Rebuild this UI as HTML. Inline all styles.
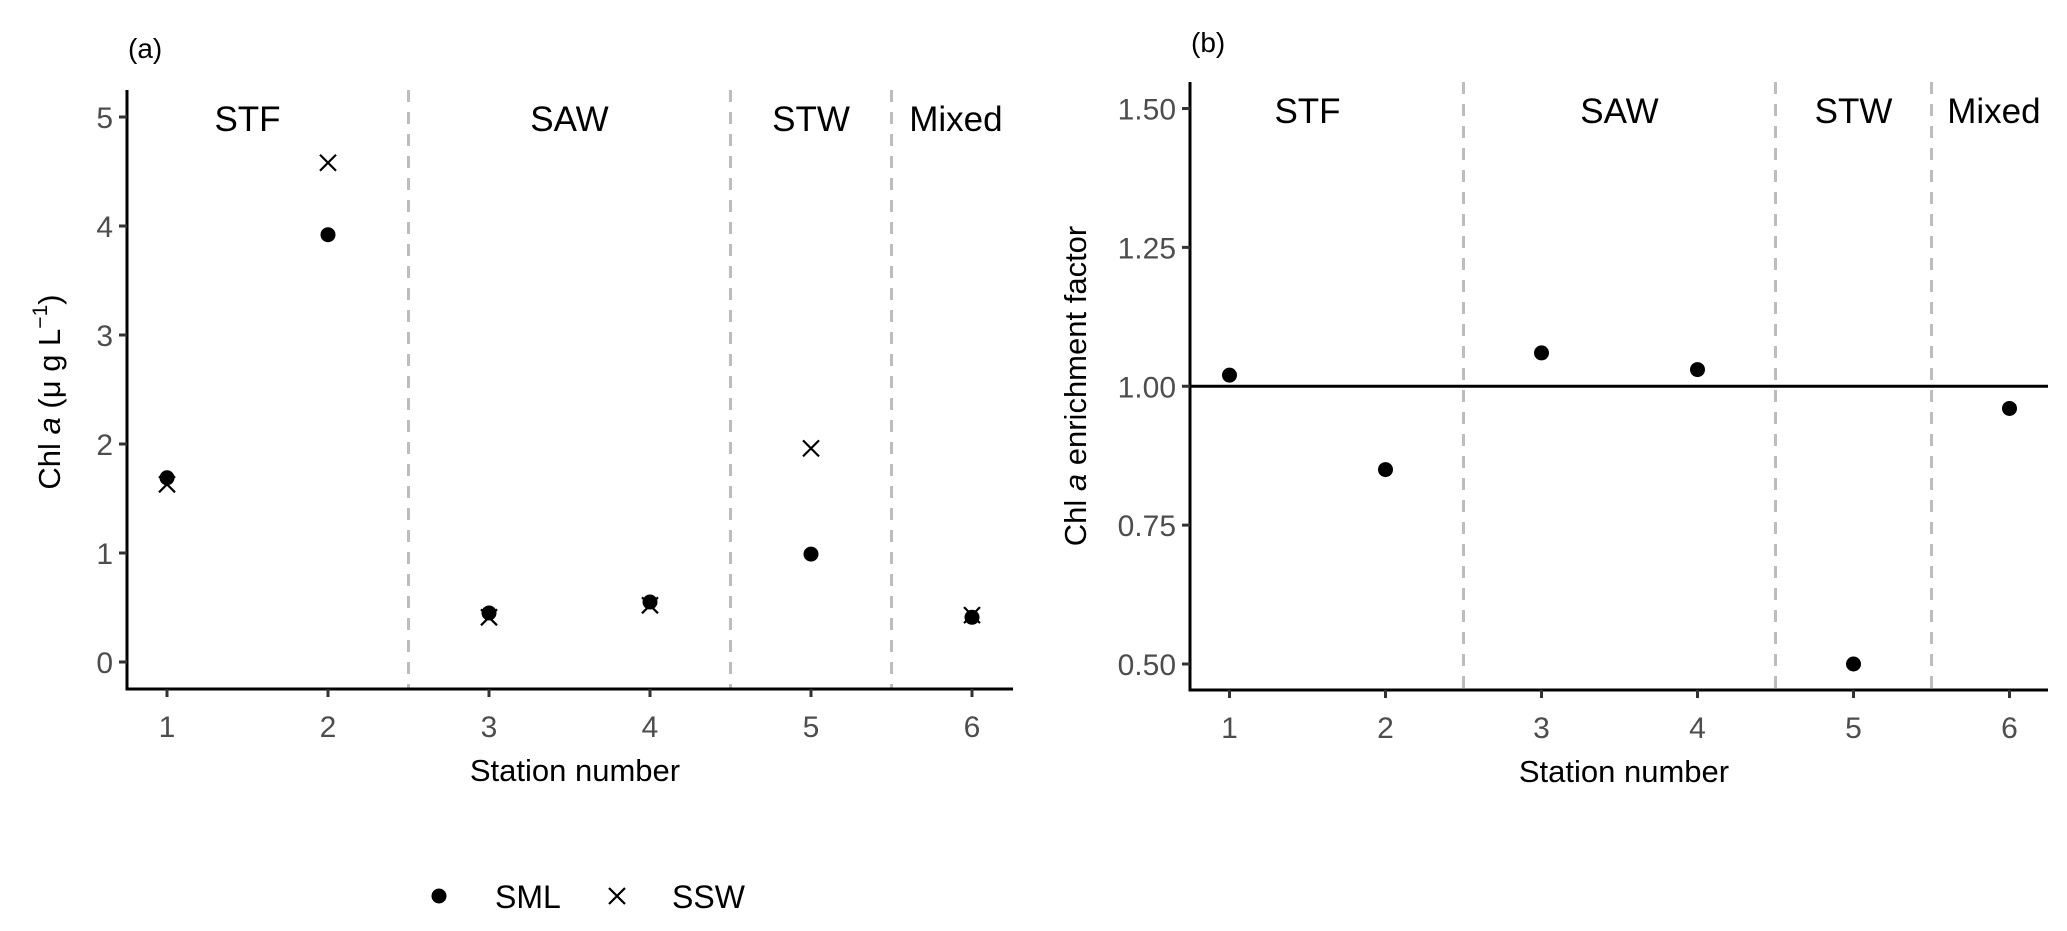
<!DOCTYPE html>
<html><head><meta charset="utf-8"><style>
html,body{margin:0;padding:0;background:#fff;}
svg{display:block;font-family:"Liberation Sans",Arial,sans-serif;}
</style></head><body>
<svg id="chart" width="2067" height="931" viewBox="0 0 2067 931" xmlns="http://www.w3.org/2000/svg"></svg>
<script>
const stations = [1, 2, 3, 4, 5, 6];
const smlValues = [1.69, 3.92, 0.45, 0.55, 0.99, 0.41];
const sswValues = [1.63, 4.58, 0.41, 0.52, 1.96, 0.43];
const efValues = [1.02, 0.85, 1.06, 1.03, 0.50, 0.96];
const yTicksA = [0, 1, 2, 3, 4, 5];
const yTickLabelsA = ["0", "1", "2", "3", "4", "5"];
const yTicksB = [0.5, 0.75, 1.0, 1.25, 1.5];
const yTickLabelsB = ["0.50", "0.75", "1.00", "1.25", "1.50"];
const regionBounds = [2.5, 4.5, 5.5];
const regionNames = ["STF", "SAW", "STW", "Mixed"];
const regionCenters = [1.5, 3.5, 5, 5.9];

const NS = "http://www.w3.org/2000/svg";
const svg = document.getElementById("chart");
function mk(tag, attrs, parent, text) {
  const e = document.createElementNS(NS, tag);
  for (const k in attrs) e.setAttribute(k, attrs[k]);
  if (text !== undefined) e.textContent = text;
  (parent || svg).appendChild(e);
  return e;
}

function panel(cfg) {
  const g = mk("g", {});
  
  
  const xs = v => cfg.x1 + (v - 1) * (cfg.x6 - cfg.x1) / 5;
  const ys = v => cfg.y0 + (v - cfg.v0) * (cfg.yTop - cfg.y0) / (cfg.vTop - cfg.v0);
  regionBounds.forEach(b => {
    const l = mk("line", {x1: xs(b), x2: xs(b), y1: cfg.axTop, y2: cfg.axY, stroke: "#bdbdbd", "stroke-width": 3, "stroke-dasharray": "12,10"}, g);
    
    
  });
  regionNames.forEach((n, i) => {
    const t = mk("text", {x: xs(regionCenters[i]), y: cfg.regY, "font-size": 35, "text-anchor": "middle", fill: "#000"}, g, n);
    
    
  });
  if (cfg.hline !== undefined) {
    const h = mk("line", {x1: cfg.axX, x2: cfg.axRight, y1: ys(cfg.hline), y2: ys(cfg.hline), stroke: "#000", "stroke-width": 3}, g);
    
    
  }
  const ya = mk("line", {x1: cfg.axX, x2: cfg.axX, y1: cfg.axTop, y2: cfg.axY + 1.5, stroke: "#000", "stroke-width": 3}, g);
  
  
  const xa = mk("line", {x1: cfg.axX - 1.5, x2: cfg.axRight, y1: cfg.axY, y2: cfg.axY, stroke: "#000", "stroke-width": 3}, g);
  
  
  cfg.yTicks.forEach((v, i) => {
    mk("line", {x1: cfg.axX - 8, x2: cfg.axX, y1: ys(v), y2: ys(v), stroke: "#333", "stroke-width": 3}, g);
    const t = mk("text", {x: cfg.axX - 14, y: ys(v) + 11, "font-size": 30, "text-anchor": "end", fill: "#4d4d4d"}, g, cfg.yLabels[i]);
    
    
  });
  stations.forEach(s => {
    mk("line", {x1: xs(s), x2: xs(s), y1: cfg.axY, y2: cfg.axY + 8, stroke: "#333", "stroke-width": 3}, g);
    const t = mk("text", {x: xs(s), y: cfg.axY + 48, "font-size": 30, "text-anchor": "middle", fill: "#4d4d4d"}, g, String(s));
    
    
  });
  const xt = mk("text", {x: (cfg.axX + cfg.axRight) / 2 + 5, y: cfg.axY + 92, "font-size": 31, "text-anchor": "middle", fill: "#000"}, g, "Station number");
  
  
  const yt = mk("text", {x: 0, y: 0, "font-size": 31, "text-anchor": "middle", fill: "#000", transform: `translate(${cfg.ytX},${cfg.ytY}) rotate(-90)`}, g);
  
  
  cfg.yTitle(yt);
  const tg = mk("text", {x: cfg.axX + 1, y: cfg.tagY, "font-size": 28, fill: "#000"}, g, cfg.tag);
  
  
  return {g, xs, ys};
}

const A = panel({name: "panel-a-chl-concentration", x1: 167, x6: 972, axX: 127, axRight: 1013, axY: 689, axTop: 90,
  y0: 662, v0: 0, yTop: 117, vTop: 5, yTicks: yTicksA, yLabels: yTickLabelsA, regY: 131, tag: "(a)", tagY: 58,
  ytX: 60, ytY: 392, yTitle: t => {
    mk("tspan", {}, t, "Chl ");
    mk("tspan", {"font-style": "italic"}, t, "a");
    mk("tspan", {}, t, " (\u03bc g L");
    mk("tspan", {dy: -13, "font-size": 21}, t, "\u22121");
    mk("tspan", {dy: 13}, t, ")");
  }});
stations.forEach((s, i) => {
  const c = mk("circle", {cx: A.xs(s), cy: A.ys(smlValues[i]), r: 7.5, fill: "#000"}, A.g);
  
  
  const x = A.xs(s), y = A.ys(sswValues[i]), d = 8;
  const p = mk("path", {d: `M${x-d},${y-d}L${x+d},${y+d}M${x-d},${y+d}L${x+d},${y-d}`, stroke: "#000", "stroke-width": 2.2, fill: "none"}, A.g);
  
  
});

const B = panel({name: "panel-b-enrichment-factor", x1: 1229.5, x6: 2009.5, axX: 1190, axRight: 2048, axY: 690, axTop: 82,
  y0: 664, v0: 0.5, yTop: 108.5, vTop: 1.5, yTicks: yTicksB, yLabels: yTickLabelsB, regY: 123, tag: "(b)", tagY: 52,
  hline: 1.0, ytX: 1086, ytY: 386, yTitle: t => {
    mk("tspan", {}, t, "Chl ");
    mk("tspan", {"font-style": "italic"}, t, "a");
    mk("tspan", {}, t, " enrichment factor");
  }});
stations.forEach((s, i) => {
  const c = mk("circle", {cx: B.xs(s), cy: B.ys(efValues[i]), r: 7.5, fill: "#000"}, B.g);
  
  
});

const lg = mk("g", {});


const lc = mk("circle", {cx: 439, cy: 896, r: 7.5, fill: "#000"}, lg);


const lt1 = mk("text", {x: 495, y: 908, "font-size": 32, fill: "#000"}, lg, "SML");


const lx = mk("path", {d: "M609,888L625,904M609,904L625,888", stroke: "#000", "stroke-width": 2.2, fill: "none"}, lg);


const lt2 = mk("text", {x: 672, y: 908, "font-size": 32, fill: "#000"}, lg, "SSW");


</script>
</body></html>
